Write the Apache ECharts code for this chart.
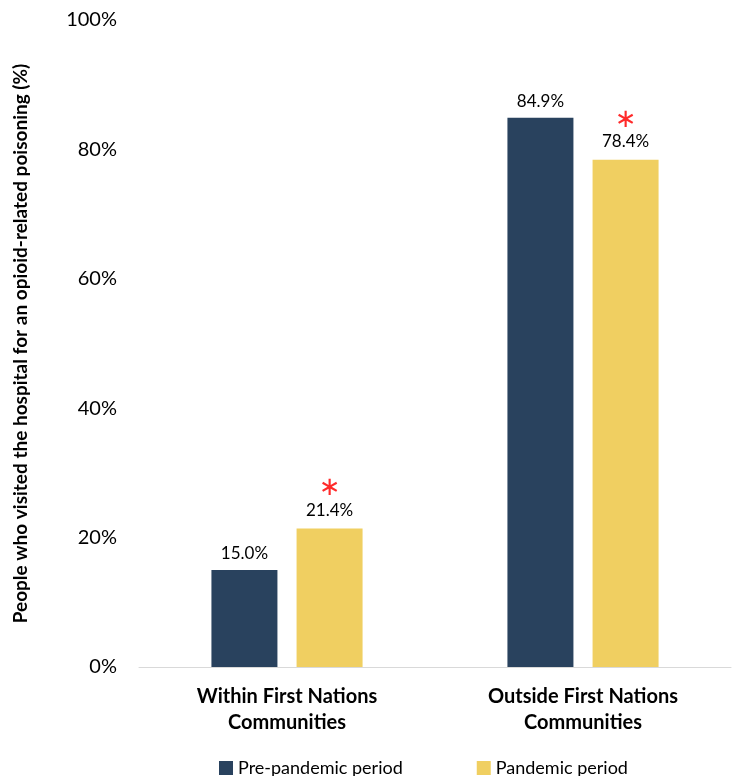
<!DOCTYPE html>
<html><head><meta charset="utf-8">
<script src="https://cdn.jsdelivr.net/npm/echarts@6/dist/echarts.min.js"></script>
<style>html,body{margin:0;padding:0;background:#fff}#c{width:736px;height:776px}</style>
</head><body><div id="c"></div>
<script>
const categories = ['Within First Nations\nCommunities', 'Outside First Nations\nCommunities'];
const prePandemic = [15.0, 84.9];
const pandemic = [21.4, 78.4];
const significant = [true, true];
const yTicks = [0, 20, 40, 60, 80, 100];
const F = 'Lato, "Noto Sans", sans-serif';
const chart = echarts.init(document.getElementById('c'));
chart.setOption({
  animation: false,
  textStyle: { fontFamily: F },
  grid: { left: 139, right: 5, top: 20, bottom: 109, containLabel: false },
  legend: {
    bottom: -6, left: 214, itemWidth: 14, itemHeight: 14, itemGap: 74,
    icon: 'rect',
    textStyle: { fontFamily: F, fontSize: 18, color: '#000' },
    data: ['Pre-pandemic period', 'Pandemic period']
  },
  xAxis: {
    type: 'category', data: categories,
    axisLine: { lineStyle: { color: '#d9d9d9' } },
    axisTick: { show: false },
    axisLabel: { fontFamily: F, fontSize: 20, fontWeight: 'bold', color: '#000', margin: 17, lineHeight: 26 }
  },
  yAxis: {
    type: 'value', min: 0, max: 100, interval: 20,
    splitLine: { show: false },
    axisLine: { show: false }, axisTick: { show: false },
    axisLabel: { fontFamily: F, fontSize: 20, color: '#000', margin: 22, formatter: v => yTicks.includes(v) ? v + '%' : '' },
    name: 'People who visited the hospital for an opioid-related poisoning (%)',
    nameLocation: 'middle', nameGap: 109, nameRotate: 90,
    nameTextStyle: { fontFamily: F, fontSize: 19, fontWeight: 'bold', color: '#000' }
  },
  series: [
    {
      name: 'Pre-pandemic period', type: 'bar', data: prePandemic, barWidth: 66, barGap: '29%',
      itemStyle: { color: '#29425e' },
      label: { show: true, position: 'top', distance: 8, fontFamily: F, fontSize: 17, color: '#000', formatter: p => p.value.toFixed(1) + '%' }
    },
    {
      name: 'Pandemic period', type: 'bar', data: pandemic, barWidth: 66,
      itemStyle: { color: '#f0cf61' },
      label: {
        show: true, position: 'top', distance: 8, fontFamily: F,
        formatter: p => (significant[p.dataIndex] ? '{s|\u2217}\n' : '') + '{v|' + p.value.toFixed(1) + '%}',
        rich: {
          s: { fontSize: 26, color: '#ff2a2a', lineHeight: 22, fontFamily: '"DejaVu Sans"', padding: [0, 0, 2, 0] },
          v: { fontSize: 17, color: '#000', lineHeight: 20, fontFamily: F }
        }
      }
    }
  ]
});
</script></body></html>
